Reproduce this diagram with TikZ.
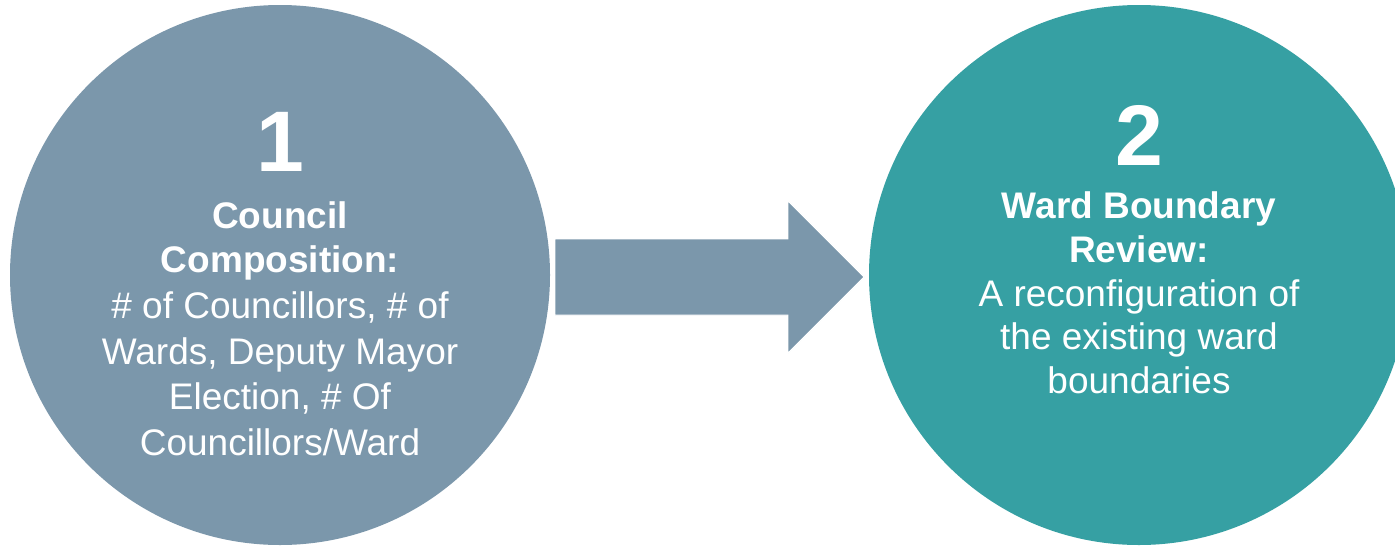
\documentclass[tikz,border=0pt]{standalone}
\usepackage{fontspec}
\setmainfont{Liberation Sans}
\definecolor{slateblue}{HTML}{7B97AB}
\definecolor{tealc}{HTML}{36A0A3}
\begin{document}
\begin{tikzpicture}[x=1pt,y=-1pt,
  disc/.style={circle, minimum size=540, inner sep=0, draw=none},
  num/.style={font=\fontsize{86}{86}\selectfont\bfseries, text=white, anchor=base, inner sep=0},
  boldl/.style={font=\fontsize{37}{37}\selectfont\bfseries, text=white, anchor=base, inner sep=0},
  regl/.style={font=\fontsize{37}{37}\selectfont, text=white, anchor=base, inner sep=0},
  blockarrow/.style={fill=slateblue, draw=white, line width=0.8pt}]
\useasboundingbox (0,0) rectangle (1395,549);
\clip (0,0) rectangle (1395,549);
\fill[white] (0,0) rectangle (1395,549);
\node[disc, fill=slateblue] (c1) at (280,275) {};
\node[disc, fill=tealc] (c2) at (1139,275) {};
% block arrow
\coordinate (a1) at (555,239);
\coordinate (a2) at (788,239);
\coordinate (a3) at (788,201);
\coordinate (a4) at (864,277);
\coordinate (a5) at (788,353);
\coordinate (a6) at (788,315);
\coordinate (a7) at (555,315);
\draw[blockarrow] (a1) -- (a2) -- (a3) -- (a4) -- (a5) -- (a6) -- (a7) -- cycle;
% circle 1 text
\node[num] (n1) at (280,171) {1};
\node[boldl] (t11) at (280,228) {Council};
\node[boldl] (t12) at (280,272) {Composition:};
\node[regl] (t13) at (280,318) {\# of Councillors, \# of};
\node[regl] (t14) at (280,364) {Wards, Deputy Mayor};
\node[regl] (t15) at (280,409) {Election, \# Of};
\node[regl] (t16) at (280,455) {Councillors/Ward};
% circle 2 text
\node[num] (n2) at (1139,165) {2};
\node[boldl] (t21) at (1139,218) {Ward Boundary};
\node[boldl] (t22) at (1139,262) {Review:};
\node[regl] (t23) at (1139,306) {A reconfiguration of};
\node[regl] (t24) at (1139,349) {the existing ward};
\node[regl] (t25) at (1139,393) {boundaries};
\end{tikzpicture}
\end{document}
